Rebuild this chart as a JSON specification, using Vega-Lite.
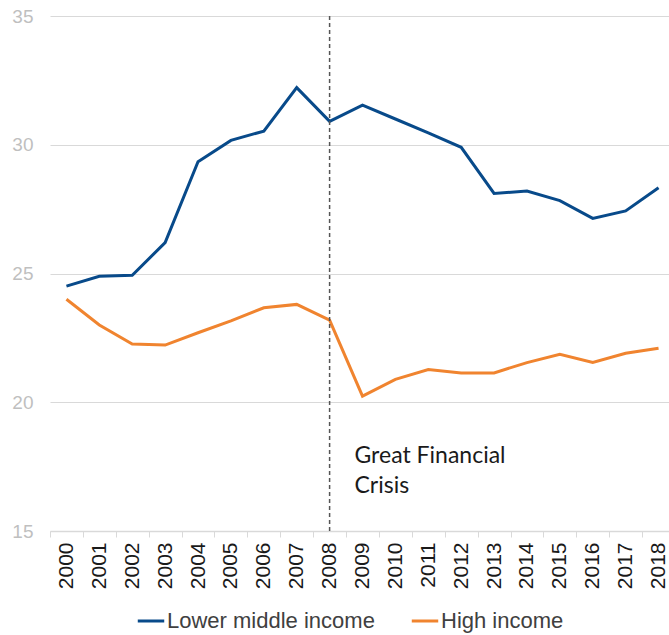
{
  "$schema": "https://vega.github.io/schema/vega-lite/v6.json",
  "autosize": {"type": "none"},
  "width": 625,
  "height": 515,
  "padding": {"left": 50, "top": 16, "right": 0, "bottom": 104},
  "background": "white",
  "config": {
    "view": {"stroke": null},
    "font": "Liberation Sans",
    "axis": {"labelFont": "Liberation Sans"},
    "legend": {"labelFont": "Liberation Sans"}
  },
  "datasets": {
    "series": [
      {"year": "2000", "series": "Lower middle income", "value": 24.51},
      {"year": "2001", "series": "Lower middle income", "value": 24.89},
      {"year": "2002", "series": "Lower middle income", "value": 24.93},
      {"year": "2003", "series": "Lower middle income", "value": 26.2},
      {"year": "2004", "series": "Lower middle income", "value": 29.34},
      {"year": "2005", "series": "Lower middle income", "value": 30.17},
      {"year": "2006", "series": "Lower middle income", "value": 30.53},
      {"year": "2007", "series": "Lower middle income", "value": 32.22},
      {"year": "2008", "series": "Lower middle income", "value": 30.91},
      {"year": "2009", "series": "Lower middle income", "value": 31.54},
      {"year": "2010", "series": "Lower middle income", "value": 31.0},
      {"year": "2011", "series": "Lower middle income", "value": 30.46},
      {"year": "2012", "series": "Lower middle income", "value": 29.9},
      {"year": "2013", "series": "Lower middle income", "value": 28.11},
      {"year": "2014", "series": "Lower middle income", "value": 28.2},
      {"year": "2015", "series": "Lower middle income", "value": 27.83},
      {"year": "2016", "series": "Lower middle income", "value": 27.14},
      {"year": "2017", "series": "Lower middle income", "value": 27.43},
      {"year": "2018", "series": "Lower middle income", "value": 28.33},
      {"year": "2000", "series": "High income", "value": 24.0},
      {"year": "2001", "series": "High income", "value": 23.0},
      {"year": "2002", "series": "High income", "value": 22.26},
      {"year": "2003", "series": "High income", "value": 22.22},
      {"year": "2004", "series": "High income", "value": 22.7},
      {"year": "2005", "series": "High income", "value": 23.16},
      {"year": "2006", "series": "High income", "value": 23.67},
      {"year": "2007", "series": "High income", "value": 23.8},
      {"year": "2008", "series": "High income", "value": 23.19},
      {"year": "2009", "series": "High income", "value": 20.24},
      {"year": "2010", "series": "High income", "value": 20.89},
      {"year": "2011", "series": "High income", "value": 21.27},
      {"year": "2012", "series": "High income", "value": 21.14},
      {"year": "2013", "series": "High income", "value": 21.14},
      {"year": "2014", "series": "High income", "value": 21.54},
      {"year": "2015", "series": "High income", "value": 21.86},
      {"year": "2016", "series": "High income", "value": 21.55},
      {"year": "2017", "series": "High income", "value": 21.9},
      {"year": "2018", "series": "High income", "value": 22.1}
    ],
    "event": [{"year": "2008"}],
    "note": [{"year": "2009", "value": 17.9, "label": ["Great Financial", "Crisis"]}]
  },
  "encoding": {
    "x": {
      "field": "year",
      "type": "ordinal",
      "bandPosition": 0.5,
      "scale": {"type": "band", "paddingInner": 0, "paddingOuter": 0},
      "axis": {
        "title": null,
        "labelAngle": -90,
        "labelFontSize": 21,
        "labelColor": "#1a1a1a",
        "labelPadding": 5,
        "tickBand": "extent",
        "tickSize": 6,
        "tickColor": "#d9d9d9",
        "domainColor": "#d9d9d9",
        "domainWidth": 1.5,
        "grid": false
      }
    }
  },
  "layer": [
    {
      "data": {"name": "series"},
      "mark": {"type": "line", "strokeWidth": 3},
      "encoding": {
        "y": {
          "field": "value",
          "type": "quantitative",
          "scale": {"domain": [15, 35], "nice": false, "zero": false},
          "axis": {
            "title": null,
            "values": [15, 20, 25, 30, 35],
            "domain": false,
            "ticks": false,
            "labelFontSize": 19,
            "labelColor": "#bfbfbf",
            "labelPadding": 17,
            "gridColor": "#d9d9d9",
            "gridWidth": 1.2
          }
        },
        "color": {
          "field": "series",
          "type": "nominal",
          "sort": ["Lower middle income", "High income"],
          "scale": {"domain": ["Lower middle income", "High income"], "range": ["#084a8a", "#f0842f"]},
          "legend": {
            "title": null,
            "orient": "none",
            "direction": "horizontal",
            "legendX": 86,
            "legendY": 590,
            "symbolType": "stroke",
            "symbolStrokeWidth": 3,
            "symbolSize": 700,
            "labelFontSize": 22,
            "labelLimit": 400,
            "labelColor": "#404040",
            "labelOffset": 1,
            "columnPadding": 30
          }
        }
      }
    },
    {
      "data": {"name": "event"},
      "mark": {"type": "rule", "color": "#555555", "strokeDash": [4, 3], "strokeWidth": 1.5},
      "encoding": {}
    },
    {
      "data": {"name": "note"},
      "mark": {"type": "text", "align": "left", "baseline": "middle", "dx": -8, "font": "Lato", "fontSize": 23, "lineHeight": 30, "color": "#1a1a1a"},
      "encoding": {
        "y": {"field": "value", "type": "quantitative"},
        "text": {"field": "label"}
      }
    }
  ]
}
